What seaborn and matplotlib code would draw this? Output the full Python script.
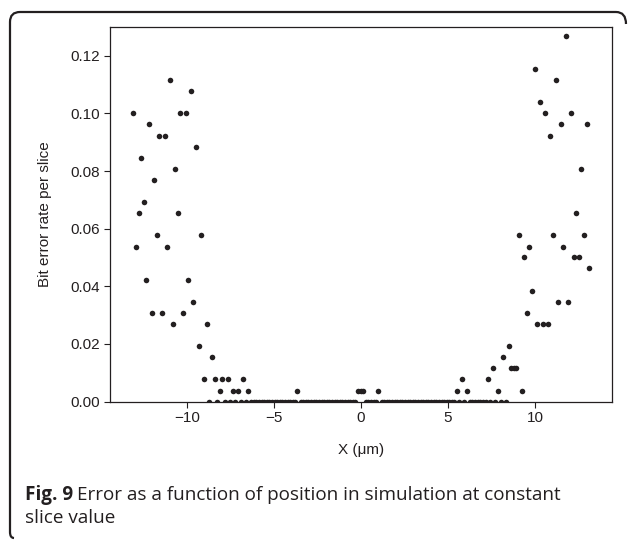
import matplotlib
matplotlib.use("Agg")
import matplotlib.pyplot as plt
from matplotlib.path import Path
from matplotlib.patches import PathPatch
import pandas as pd
import seaborn as sns

# positions (um) with a non-zero bit error rate, and the rate there
x_err = [-13.09, -12.94, -12.79, -12.64, -12.49, -12.34, -12.19, -12.04, -11.89, -11.74,
         -11.59, -11.43, -11.28, -11.13, -10.98, -10.83, -10.68, -10.53, -10.38, -10.23,
         -10.08, -9.93, -9.78, -9.63, -9.48, -9.33, -9.18, -9.03, -8.88, -8.57,
         -8.42, -8.12, -7.97, -7.67, -7.37, -7.07, -6.77, -6.47, -3.66, -0.17,
         -0.02, 0.13, 1.00,
         5.50, 5.80, 6.11, 7.28, 7.57, 7.89, 8.18, 8.49, 8.63, 8.78,
         8.93, 9.08, 9.23, 9.37, 9.53, 9.67, 9.83, 9.98, 10.13, 10.29,
         10.44, 10.57, 10.75, 10.88, 11.02, 11.19, 11.32, 11.48, 11.63, 11.78,
         11.92, 12.07, 12.22, 12.38, 12.53, 12.66, 12.82, 12.97, 13.10]
ber = [0.1000, 0.0538, 0.0654, 0.0846, 0.0692, 0.0423, 0.0962, 0.0308, 0.0769, 0.0577,
       0.0923, 0.0308, 0.0923, 0.0538, 0.1115, 0.0269, 0.0808, 0.0654, 0.1000, 0.0308,
       0.1000, 0.0423, 0.1077, 0.0346, 0.0885, 0.0192, 0.0577, 0.0077, 0.0269, 0.0154,
       0.0077, 0.0038, 0.0077, 0.0077, 0.0038, 0.0038, 0.0077, 0.0038, 0.0038, 0.0038,
       0.0038, 0.0038, 0.0038,
       0.0038, 0.0077, 0.0038, 0.0077, 0.0115, 0.0038, 0.0154, 0.0192, 0.0115, 0.0115,
       0.0115, 0.0577, 0.0038, 0.0500, 0.0308, 0.0538, 0.0385, 0.1154, 0.0269, 0.1038,
       0.0269, 0.1000, 0.0269, 0.0923, 0.0577, 0.1115, 0.0346, 0.0962, 0.0538, 0.1269,
       0.0346, 0.1000, 0.0500, 0.0654, 0.0500, 0.0808, 0.0577, 0.0962, 0.0462]

# positions where no bit errors occurred
x_zero = [-8.73, -8.27, -7.82, -7.52, -7.22, -6.92, -6.62,
          -6.32, -6.17, -6.02, -5.87, -5.72, -5.57, -5.42, -5.27, -5.12, -4.97,
          -4.82, -4.67, -4.52, -4.37, -4.22, -4.07, -3.92, -3.77, -3.47, -3.32,
          -3.17, -3.02, -2.87, -2.72, -2.57, -2.42, -2.27, -2.12, -1.97, -1.82,
          -1.67, -1.52, -1.37, -1.22, -1.07, -0.92, -0.77, -0.62, -0.47, -0.32,
          0.28, 0.43, 0.58, 0.73, 0.88, 1.18, 1.33, 1.48, 1.63, 1.78,
          1.93, 2.08, 2.23, 2.38, 2.53, 2.68, 2.83, 2.98, 3.13, 3.28,
          3.43, 3.58, 3.73, 3.88, 4.03, 4.18, 4.33, 4.48, 4.63, 4.78,
          4.93, 5.08, 5.23, 5.35, 5.65, 5.95, 6.26, 6.41, 6.56, 6.71,
          6.86, 7.01, 7.16, 7.43, 7.73, 8.03, 8.33]

df = pd.DataFrame({"x": x_err + x_zero, "ber": ber + [0.0] * len(x_zero)})

sns.set_style("ticks")
plt.rcParams["font.family"] = ["Liberation Sans", "DejaVu Sans"]
ink = "#231f20"

W, H = 629, 540
fig = plt.figure(figsize=(W / 100, H / 100), dpi=100)
ax = fig.add_axes([110 / W, 1 - 401.5 / H, 502 / W, 374.5 / H])

sns.scatterplot(data=df, x="x", y="ber", ax=ax, color=ink, s=16,
                linewidth=0, legend=False)

ax.set_xlim(-14.43, 14.43)
ax.set_ylim(0, 0.13)
ax.set_xticks([-10, -5, 0, 5, 10])
ax.set_yticks([0.0, 0.02, 0.04, 0.06, 0.08, 0.10, 0.12])
ax.yaxis.set_major_formatter(matplotlib.ticker.FormatStrFormatter("%.2f"))
ax.tick_params(direction="out", length=4, width=0.8, labelsize=11,
               colors=ink, pad=3)
for sp in ax.spines.values():
    sp.set_visible(True)
    sp.set_linewidth(0.9)
    sp.set_color(ink)

ax.set_xlabel("X (\u03bcm)", fontsize=11, color=ink)
ax.set_ylabel("Bit error rate per slice", fontsize=11, color=ink)
ax.xaxis.set_label_coords(0.5, -0.11)
ax.yaxis.set_label_coords(-0.116, 0.5)

# caption, sized so the first line runs from x=25 to x=561 px
cap_font = ["Open Sans", "DejaVu Sans"]
line1 = "Error as a function of position in simulation at constant"


def draw_caption(size):
    fig.canvas.draw()
    a = fig.text(25 / W, 1 - 500 / H, "Fig. 9", fontsize=size, weight="bold",
                 family=cap_font, va="baseline", color=ink)
    fig.canvas.draw()
    bb = a.get_window_extent()
    b = fig.text((bb.x1 + size * 0.3) / W, 1 - 500 / H, line1, fontsize=size,
                 family=cap_font, va="baseline", color=ink)
    c = fig.text(25 / W, 1 - 523 / H, "slice value", fontsize=size,
                 family=cap_font, va="baseline", color=ink)
    fig.canvas.draw()
    return [a, b, c], b.get_window_extent().x1


size = 12
for _ in range(3):
    texts, right = draw_caption(size)
    size = size * (561 - 25) / (right - 25)
    for t in texts:
        t.remove()
draw_caption(size)

# rounded frame around the figure (open at the lower right)
pts = [(626, 24), (626, 12), (616, 12), (20, 12), (10, 12), (10, 22),
       (10, 532), (10, 538), (14, 538)]
codes = [Path.MOVETO, Path.CURVE3, Path.CURVE3, Path.LINETO, Path.CURVE3, Path.CURVE3,
         Path.LINETO, Path.CURVE3, Path.CURVE3]
path = Path([(px / W, 1 - py / H) for px, py in pts], codes)
fig.add_artist(PathPatch(path, transform=fig.transFigure, fill=False,
                         edgecolor=ink, linewidth=1.6))

fig.savefig("out.png", dpi=100)
